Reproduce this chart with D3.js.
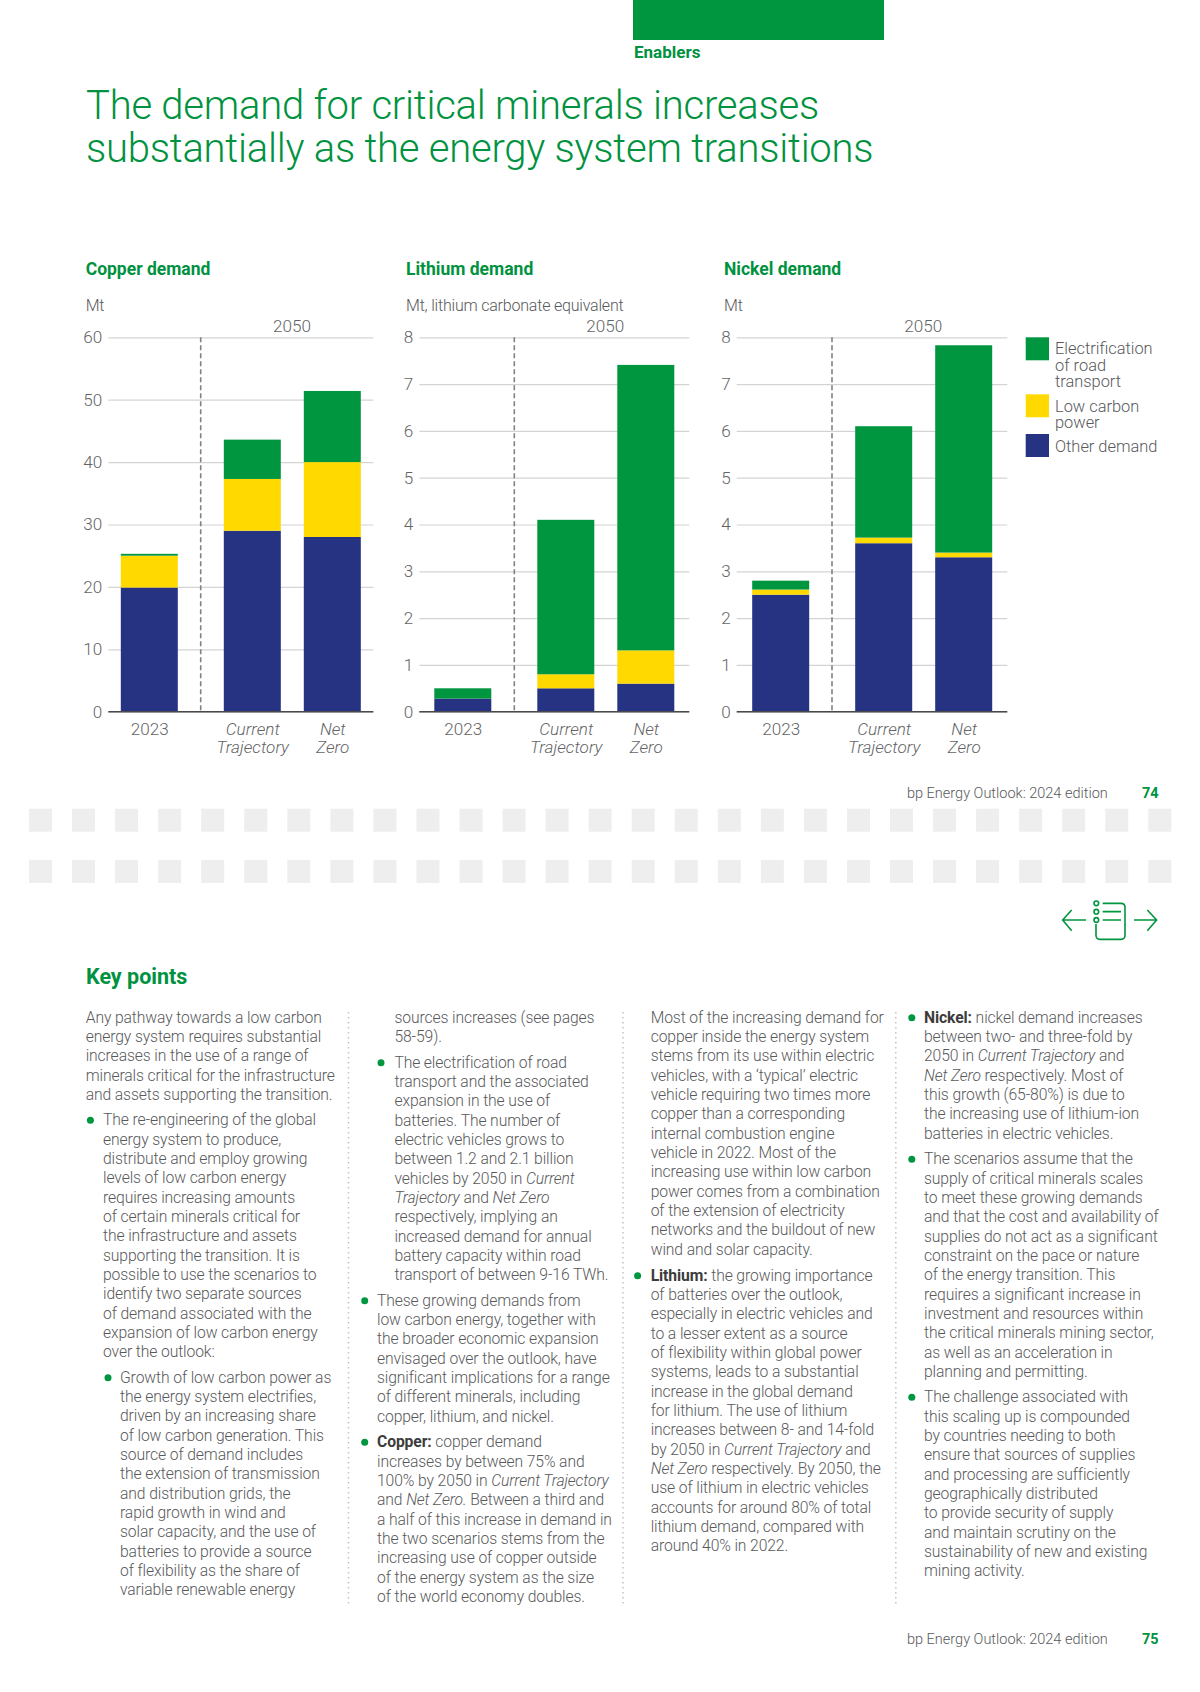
<!DOCTYPE html>
<html lang="en">

<head>
    <meta charset="UTF-8">
    <script src="https://d3js.org/d3.v7.min.js"></script>
    <title>The demand for critical minerals</title>
    <style>
        body {
            margin: 0;
            background: white;
            font-family: Roboto, sans-serif;
        }

        svg {
            display: block;
        }

        text {
            font-family: Roboto, sans-serif;
            font-weight: 300;
            fill: #58595b;
        }

        .green {
            fill: #00923f;
            font-weight: 700;
        }

        .axis text {
            font-size: 17.1px;
            fill: #636466;
        }

        .y-axis .tick line {
            stroke: #d4d4d4;
            stroke-width: 1.2px;
        }

        .body-text {
            font-size: 15.7px;
            letter-spacing: -0.11px;
        }

        .body-text .b {
            font-weight: 700;
            fill: #3c3c3c;
        }

        .body-text .i {
            font-style: italic;
        }
    </style>
</head>

<body>
    <script>
        /*------------------- chart data --------------------*/
        const categories = ["2023", "Current Trajectory", "Net Zero"];
        const seriesKeys = ["other", "lowCarbon", "road"];
        const seriesColors = ["#263282", "#ffd900", "#00953f"];

        const copperOther = [19.9, 29, 28];
        const copperLowCarbon = [5.1, 8.3, 12];
        const copperRoad = [0.3, 6.3, 11.4];

        const lithiumOther = [0.28, 0.5, 0.6];
        const lithiumLowCarbon = [0, 0.3, 0.71];
        const lithiumRoad = [0.22, 3.3, 6.1];

        const nickelOther = [2.5, 3.6, 3.3];
        const nickelLowCarbon = [0.11, 0.12, 0.1];
        const nickelRoad = [0.19, 2.38, 4.43];

        const copperTicks = [0, 10, 20, 30, 40, 50, 60];
        const lithiumTicks = [0, 1, 2, 3, 4, 5, 6, 7, 8];
        const nickelTicks = [0, 1, 2, 3, 4, 5, 6, 7, 8];

        const legendLabels = [["Electrification", "of road", "transport"], ["Low carbon", "power"], ["Other demand"]];

        /*------------------- page text --------------------*/
        const titleLines = ["The demand for critical minerals increases", "substantially as the energy system transitions"];

        // x = text start, y = first baseline, dot = bullet x (if any). ** bold, _ italic
        const textBlocks = [
            { x: 85.7, y: 1022.7, lines: ["Any pathway towards a low carbon", "energy system requires substantial", "increases in the use of a range of", "minerals critical for the infrastructure", "and assets supporting the transition."] },
            { x: 103, y: 1125.3, dot: 90.4, lines: ["The re-engineering of the global", "energy system to produce,", "distribute and employ growing", "levels of low carbon energy", "requires increasing amounts", "of certain minerals critical for", "the infrastructure and assets", "supporting the transition. It is", "possible to use the scenarios to", "identify two separate sources", "of demand associated with the", "expansion of low carbon energy", "over the outlook:"] },
            { x: 120, y: 1382.7, dot: 108, lines: ["Growth of low carbon power as", "the energy system electrifies,", "driven by an increasing share", "of low carbon generation. This", "source of demand includes", "the extension of transmission", "and distribution grids, the", "rapid growth in wind and", "solar capacity, and the use of", "batteries to provide a source", "of flexibility as the share of", "variable renewable energy"] },
            { x: 394.4, y: 1022.7, lines: ["sources increases (see pages", "58-59)."] },
            { x: 394.4, y: 1067.7, dot: 381, lines: ["The electrification of road", "transport and the associated", "expansion in the use of", "batteries. The number of", "electric vehicles grows to", "between 1.2 and 2.1 billion", "vehicles by 2050 in _Current_", "_Trajectory_ and _Net Zero_", "respectively, implying an", "increased demand for annual", "battery capacity within road", "transport of between 9-16 TWh."] },
            { x: 377, y: 1305.7, dot: 364.7, lines: ["These growing demands from", "low carbon energy, together with", "the broader economic expansion", "envisaged over the outlook, have", "significant implications for a range", "of different minerals, including", "copper, lithium, and nickel."] },
            { x: 377, y: 1447.3, dot: 364.7, lines: ["**Copper:** copper demand", "increases by between 75% and", "100% by 2050 in _Current Trajectory_", "and _Net Zero._ Between a third and", "a half of this increase in demand in", "the two scenarios stems from the", "increasing use of copper outside", "of the energy system as the size", "of the world economy doubles."] },
            { x: 650.7, y: 1022.7, lines: ["Most of the increasing demand for", "copper inside the energy system", "stems from its use within electric", "vehicles, with a ‘typical’ electric", "vehicle requiring two times more", "copper than a corresponding", "internal combustion engine", "vehicle in 2022. Most of the", "increasing use within low carbon", "power comes from a combination", "of the extension of electricity", "networks and the buildout of new", "wind and solar capacity."] },
            { x: 650.7, y: 1280.7, dot: 637.6, lines: ["**Lithium:** the growing importance", "of batteries over the outlook,", "especially in electric vehicles and", "to a lesser extent as a source", "of flexibility within global power", "systems, leads to a substantial", "increase in the global demand", "for lithium. The use of lithium", "increases between 8- and 14-fold", "by 2050 in _Current Trajectory_ and", "_Net Zero_ respectively. By 2050, the", "use of lithium in electric vehicles", "accounts for around 80% of total", "lithium demand, compared with", "around 40% in 2022."] },
            { x: 924, y: 1022.7, dot: 911.8, lines: ["**Nickel:** nickel demand increases", "between two- and three-fold by", "2050 in _Current Trajectory_ and", "_Net Zero_ respectively. Most of", "this growth (65-80%) is due to", "the increasing use of lithium-ion", "batteries in electric vehicles."] },
            { x: 924, y: 1164.3, dot: 911.8, lines: ["The scenarios assume that the", "supply of critical minerals scales", "to meet these growing demands", "and that the cost and availability of", "supplies do not act as a significant", "constraint on the pace or nature", "of the energy transition. This", "requires a significant increase in", "investment and resources within", "the critical minerals mining sector,", "as well as an acceleration in", "planning and permitting."] },
            { x: 924, y: 1402.3, dot: 911.8, lines: ["The challenge associated with", "this scaling up is compounded", "by countries needing to both", "ensure that sources of supplies", "and processing are sufficiently", "geographically distributed", "to provide security of supply", "and maintain scrutiny on the", "sustainability of new and existing", "mining activity."] }
        ];

        /*------------------- page setup --------------------*/
        const svg = d3.select("body").append("svg")
            .attr("width", 1200)
            .attr("height", 1692);

        svg.append("rect").attr("x", 633).attr("y", 0).attr("width", 251).attr("height", 40).attr("fill", "#00953f");
        svg.append("text").attr("class", "green").attr("x", 634).attr("y", 58).style("font-size", "17px").text("Enablers");

        svg.selectAll(".title")
            .data(titleLines)
            .enter()
            .append("text")
            .attr("class", "title")
            .attr("x", 86)
            .attr("y", (d, i) => 119 + i * 43)
            .style("font-size", "40px")
            .style("letter-spacing", "-0.24px")
            .style("fill", "#00923f")
            .text(d => d);

        /*------------------- panels --------------------*/
        const panels = [
            { title: "Copper demand", unit: "Mt", x: 85.7, gridLeft: 108.3, gridRight: 373.3, first: 149.3, divider: 200.7, ticks: copperTicks, label2050: 292, other: copperOther, lowCarbon: copperLowCarbon, road: copperRoad },
            { title: "Lithium demand", unit: "Mt, lithium carbonate equivalent", x: 406, gridLeft: 419.3, gridRight: 689.3, first: 462.8, divider: 514.3, ticks: lithiumTicks, label2050: 605.3, other: lithiumOther, lowCarbon: lithiumLowCarbon, road: lithiumRoad },
            { title: "Nickel demand", unit: "Mt", x: 724, gridLeft: 736.7, gridRight: 1007.3, first: 780.7, divider: 832, ticks: nickelTicks, label2050: 923.3, other: nickelOther, lowCarbon: nickelLowCarbon, road: nickelRoad }
        ];

        const yTop = 337.3, yBottom = 711.7, barWidth = 57;

        panels.forEach(p => {
            const y = d3.scaleLinear()
                .domain(d3.extent(p.ticks))
                .range([yBottom, yTop]);
            const x = d3.scaleOrdinal()
                .domain(categories)
                .range([p.first, p.first + 103, p.first + 183]);

            svg.append("text").attr("class", "green").attr("x", p.x).attr("y", 274.7).style("font-size", "17.5px").text(p.title);
            svg.append("text").attr("x", p.x).attr("y", 311).style("font-size", "16px").style("letter-spacing", "-0.2px").text(p.unit);
            svg.append("text").attr("x", p.label2050).attr("y", 332).attr("text-anchor", "middle").style("font-size", "17.1px").style("fill", "#636466").text("2050");

            // gridlines and tick labels
            const yAxis = svg.append("g")
                .attr("class", "axis y-axis")
                .attr("transform", `translate(${p.gridLeft},0)`)
                .call(d3.axisLeft(y).tickValues(p.ticks).tickSize(p.gridLeft - p.gridRight).tickPadding(6).tickFormat(d3.format("d")));
            yAxis.select(".domain").remove();
            yAxis.selectAll("text").attr("dy", ".32em");

            // stacked bars
            const rows = categories.map((c, i) => ({ category: c, other: p.other[i], lowCarbon: p.lowCarbon[i], road: p.road[i] }));
            const stacked = d3.stack().keys(seriesKeys)(rows);
            svg.append("g")
                .selectAll("g")
                .data(stacked)
                .enter()
                .append("g")
                .attr("fill", (d, i) => seriesColors[i])
                .selectAll("rect")
                .data(d => d)
                .enter()
                .append("rect")
                .attr("x", d => x(d.data.category) - barWidth / 2)
                .attr("y", d => y(d[1]))
                .attr("width", barWidth)
                .attr("height", d => y(d[0]) - y(d[1]));

            // 2023 / 2050 divider
            svg.append("line")
                .attr("x1", p.divider).attr("x2", p.divider)
                .attr("y1", yTop).attr("y2", yBottom)
                .attr("stroke", "#808184")
                .attr("stroke-width", 1.6)
                .attr("stroke-dasharray", "5 3");

            // baseline and category labels
            const xAxis = svg.append("g")
                .attr("class", "axis x-axis")
                .attr("transform", `translate(0,${yBottom})`)
                .call(d3.axisBottom(x).tickSize(0).tickPadding(0));
            xAxis.select(".domain").remove();
            xAxis.selectAll("text").remove();
            xAxis.selectAll(".tick").each(function (d) {
                const words = d.split(" ");
                const label = d3.select(this).append("text")
                    .attr("text-anchor", "middle")
                    .style("font-style", d === "2023" ? "normal" : "italic");
                words.forEach((w, i) => {
                    label.append("tspan").attr("x", 0).attr("y", 23.3 + i * 18.3).text(w);
                });
            });
            svg.append("line")
                .attr("x1", p.gridLeft).attr("x2", p.gridRight)
                .attr("y1", yBottom).attr("y2", yBottom)
                .attr("stroke", "#4a4a4c")
                .attr("stroke-width", 1.6);
        });

        /*------------------- legend --------------------*/
        const legendColors = [seriesColors[2], seriesColors[1], seriesColors[0]];
        const legendSwatchY = [337.3, 394.3, 434];
        const legendTextY = [354.3, 411.7, 451.7];
        legendLabels.forEach((lines, i) => {
            svg.append("rect")
                .attr("x", 1025.7).attr("y", legendSwatchY[i])
                .attr("width", 23.3).attr("height", 23)
                .attr("fill", legendColors[i]);
            lines.forEach((l, j) => {
                svg.append("text")
                    .attr("x", 1055)
                    .attr("y", legendTextY[i] + j * 16.2)
                    .style("font-size", "16.4px")
                    .text(l);
            });
        });

        /*------------------- footers --------------------*/
        [[798, "74"], [1644, "75"]].forEach(f => {
            svg.append("text").attr("x", 907).attr("y", f[0]).style("font-size", "14.5px").text("bp Energy Outlook: 2024 edition");
            svg.append("text").attr("class", "green").attr("x", 1142).attr("y", f[0]).style("font-size", "14.4px").text(f[1]);
        });

        /*------------------- grey page break --------------------*/
        [808.7, 860].forEach(rowY => {
            svg.append("g")
                .selectAll("rect")
                .data(d3.range(27))
                .enter()
                .append("rect")
                .attr("x", d => 29 + d * 43.05)
                .attr("y", rowY)
                .attr("width", 23)
                .attr("height", 23)
                .attr("fill", "#eeeeee");
        });

        /*------------------- contents icon --------------------*/
        const icon = svg.append("g")
            .attr("transform", "translate(1040,880) scale(0.3333)")
            .attr("fill", "none")
            .attr("stroke", "#00953f")
            .attr("stroke-width", 4.8);
        icon.append("path").attr("d", "M138,120H68M95,90L68,120L95,152");
        icon.append("path").attr("d", "M282,120H350M322,90L350,120L322,152");
        icon.append("path").attr("d", "M188,70H243Q255,70 255,82V166Q255,178 243,178H180Q168,178 168,166V132");
        icon.append("path").attr("d", "M188,95H243M188,120H243");
        [70, 95, 120].forEach(cy => {
            icon.append("circle").attr("cx", 169).attr("cy", cy).attr("r", 7);
        });

        /*------------------- key points text --------------------*/
        svg.append("text").attr("class", "green").attr("x", 86).attr("y", 983.5).style("font-size", "21.5px").text("Key points");

        [348.5, 623, 895.8].forEach(dx => {
            svg.append("line")
                .attr("x1", dx).attr("x2", dx)
                .attr("y1", 1012).attr("y2", 1607)
                .attr("stroke", "#c4c4c4")
                .attr("stroke-width", 1.5)
                .attr("stroke-dasharray", "1.5 3.5");
        });

        const lineHeight = 19.33;
        textBlocks.forEach(block => {
            if (block.dot) {
                svg.append("circle")
                    .attr("cx", block.dot)
                    .attr("cy", block.y - 5)
                    .attr("r", 3.5)
                    .attr("fill", "#00953f");
            }
            block.lines.forEach((line, i) => {
                const t = svg.append("text")
                    .attr("class", "body-text")
                    .attr("x", block.x)
                    .attr("y", block.y + i * lineHeight);
                // split on the ** and _ markers, odd pieces are the styled ones
                line.split(/(\*\*.*?\*\*|_.*?_)/).filter(s => s).forEach(piece => {
                    if (piece.startsWith("**")) t.append("tspan").attr("class", "b").text(piece.slice(2, -2));
                    else if (piece.startsWith("_")) t.append("tspan").attr("class", "i").text(piece.slice(1, -1));
                    else t.append("tspan").text(piece);
                });
            });
        });
    </script>
</body>

</html>
